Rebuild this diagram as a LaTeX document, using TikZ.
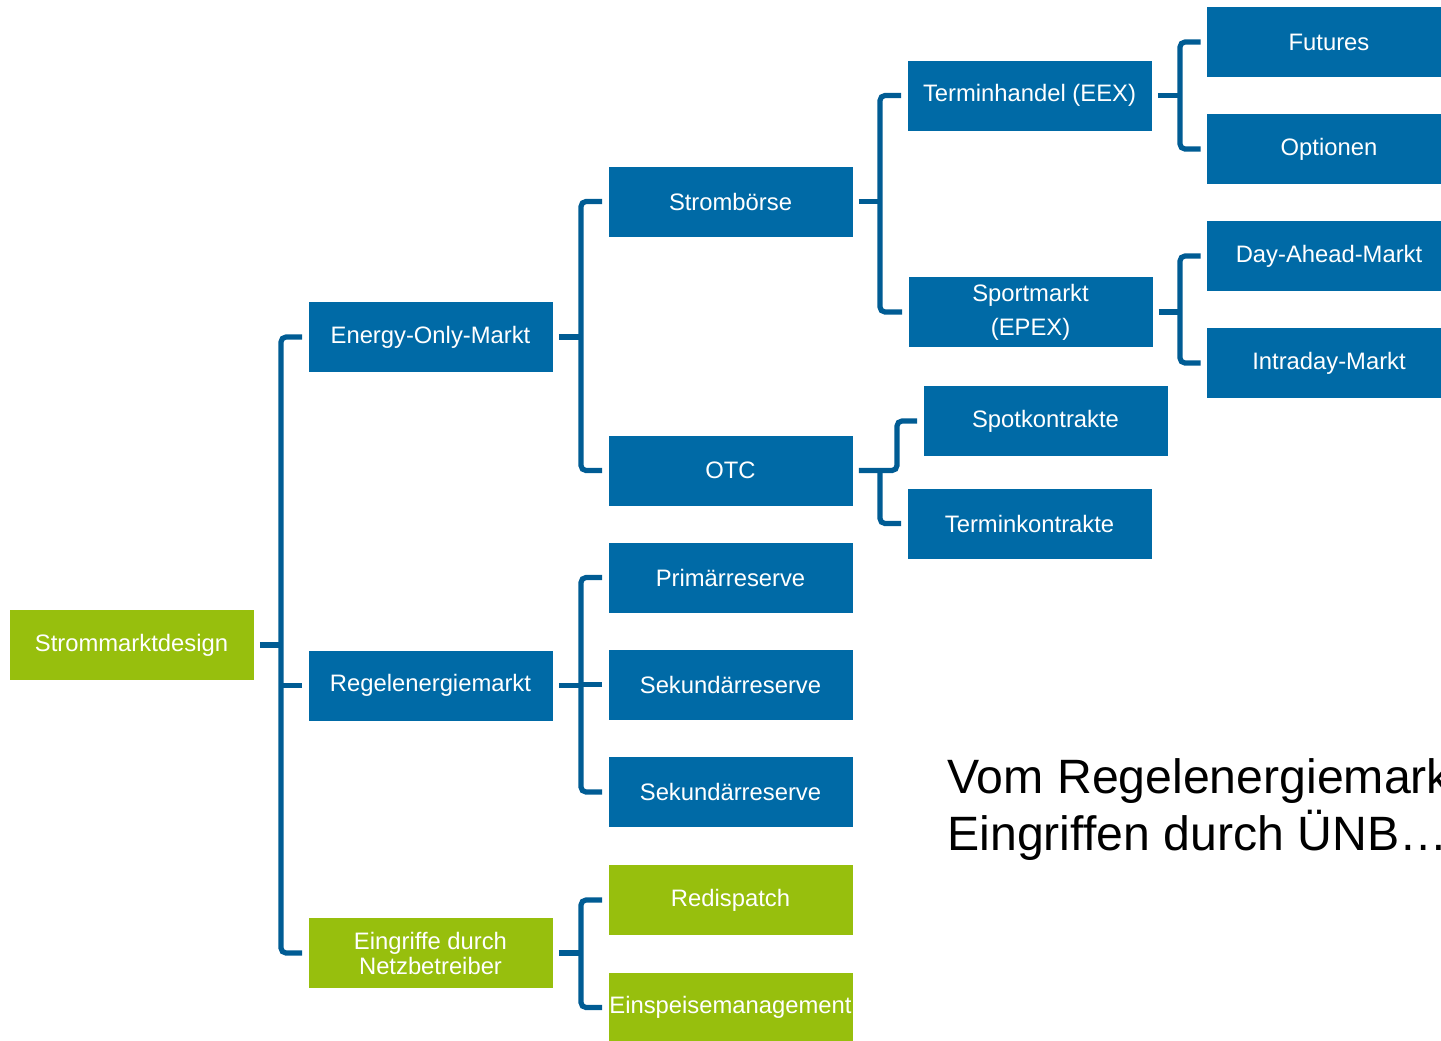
\documentclass[tikz,border=0pt]{standalone}
\usepackage{fontspec}
\setmainfont{Liberation Sans}
\usetikzlibrary{calc}
\definecolor{boxblue}{RGB}{0,106,166}
\definecolor{lineblue}{RGB}{0,92,148}
\definecolor{boxgreen}{RGB}{151,191,13}
\begin{document}
\begin{tikzpicture}[x=0.5pt,y=-0.5pt,
  box/.style={rectangle,inner sep=0pt,minimum width=122pt,minimum height=35pt,
    text=white,font=\fontsize{11.9}{12.5}\selectfont,align=center},
  bluebox/.style={box,fill=boxblue},
  greenbox/.style={box,fill=boxgreen},
  conn/.style={draw=lineblue,line width=2.6pt,rounded corners=2.5pt},
  caption/.style={anchor=base west,inner sep=0pt,font=\fontsize{24.1}{28}\selectfont}]
\useasboundingbox (0,0) rectangle (1441,1040);
\clip (0,0) rectangle (1441,1040);

% level 0
\node[greenbox] (sm) at (131.5,645) {Strommarktdesign};
% level 1
\node[bluebox] (eom) at (430.5,337) {Energy-Only-Markt};
\node[bluebox] (rem) at (430.5,685.5) {Regelenergiemarkt};
\node[greenbox] (ein) at (430.5,953) {Eingriffe durch\\Netzbetreiber};
% level 2
\node[bluebox] (sb) at (730.5,201.5) {Strombörse};
\node[bluebox] (otc) at (730.5,470.5) {OTC};
\node[bluebox] (pr) at (730.5,577.5) {Primärreserve};
\node[bluebox] (sr1) at (730.5,684.5) {Sekundärreserve};
\node[bluebox] (sr2) at (730.5,792) {Sekundärreserve};
\node[greenbox] (rd) at (730.5,900) {Redispatch};
\node[greenbox] (esm) at (730.5,1007.5) {Einspeisemanagement};
% level 3
\node[bluebox] (th) at (1029.5,95.5) {Terminhandel (EEX)};
\node[bluebox,font=\fontsize{11.9}{17}\selectfont] (spm) at (1030.5,312) {Sportmarkt\\(EPEX)};
\node[bluebox] (spk) at (1045.5,421) {Spotkontrakte};
\node[bluebox] (tk) at (1029.5,523.5) {Terminkontrakte};
% level 4
\node[bluebox] (fu) at (1329,42) {Futures};
\node[bluebox] (op) at (1329,149) {Optionen};
\node[bluebox] (da) at (1329,256) {Day-Ahead-Markt};
\node[bluebox] (id) at (1329,363) {Intraday-Markt};

% bracket columns
\coordinate (b1) at (281,0);
\coordinate (b2) at (581,0);
\coordinate (b3) at (880,0);
\coordinate (b3s) at (897,0);
\coordinate (b4) at (1180,0);

% Strommarktdesign
\draw[conn] ($(sm.east)+(6,0)$) -- (sm.east -| b1);
\draw[conn] ($(eom.west)+(-6,0)$) -- (eom.west -| b1) -- (ein.west -| b1) -- ($(ein.west)+(-6,0)$);
\draw[conn] ($(rem.west)+(-6,0)$) -- (rem.west -| b1);

% Energy-Only-Markt
\draw[conn] ($(eom.east)+(6,0)$) -- (eom.east -| b2);
\draw[conn] ($(sb.west)+(-6,0)$) -- (sb.west -| b2) -- (otc.west -| b2) -- ($(otc.west)+(-6,0)$);

% Regelenergiemarkt
\draw[conn] ($(rem.east)+(6,0)$) -- (rem.east -| b2);
\draw[conn] ($(pr.west)+(-6,0)$) -- (pr.west -| b2) -- (sr2.west -| b2) -- ($(sr2.west)+(-6,0)$);
\draw[conn] ($(sr1.west)+(-6,0)$) -- (sr1.west -| b2);

% Eingriffe durch Netzbetreiber
\draw[conn] ($(ein.east)+(6,0)$) -- (ein.east -| b2);
\draw[conn] ($(rd.west)+(-6,0)$) -- (rd.west -| b2) -- (esm.west -| b2) -- ($(esm.west)+(-6,0)$);

% Strombörse
\draw[conn] ($(sb.east)+(6,0)$) -- (sb.east -| b3);
\draw[conn] ($(th.west)+(-6,0)$) -- (th.west -| b3) -- (spm.west -| b3) -- ($(spm.west)+(-6,0)$);

% OTC
\draw[conn] ($(otc.east)+(6,0)$) -- (otc.east -| b3s) -- (spk.west -| b3s) -- ($(spk.west)+(-6,0)$);
\draw[conn] (otc.east -| b3) -- (tk.west -| b3) -- ($(tk.west)+(-6,0)$);

% Terminhandel (EEX)
\draw[conn] ($(th.east)+(6,0)$) -- (th.east -| b4);
\draw[conn] ($(fu.west)+(-6,0)$) -- (fu.west -| b4) -- (op.west -| b4) -- ($(op.west)+(-6,0)$);

% Sportmarkt (EPEX)
\draw[conn] ($(spm.east)+(6,0)$) -- (spm.east -| b4);
\draw[conn] ($(da.west)+(-6,0)$) -- (da.west -| b4) -- (id.west -| b4) -- ($(id.west)+(-6,0)$);

% caption
\node[caption] (cap1) at (947,793) {Vom Regelenergiemarkt};
\node[caption] (cap2) at (947,850) {Eingriffen durch ÜNB…};
\end{tikzpicture}
\end{document}
